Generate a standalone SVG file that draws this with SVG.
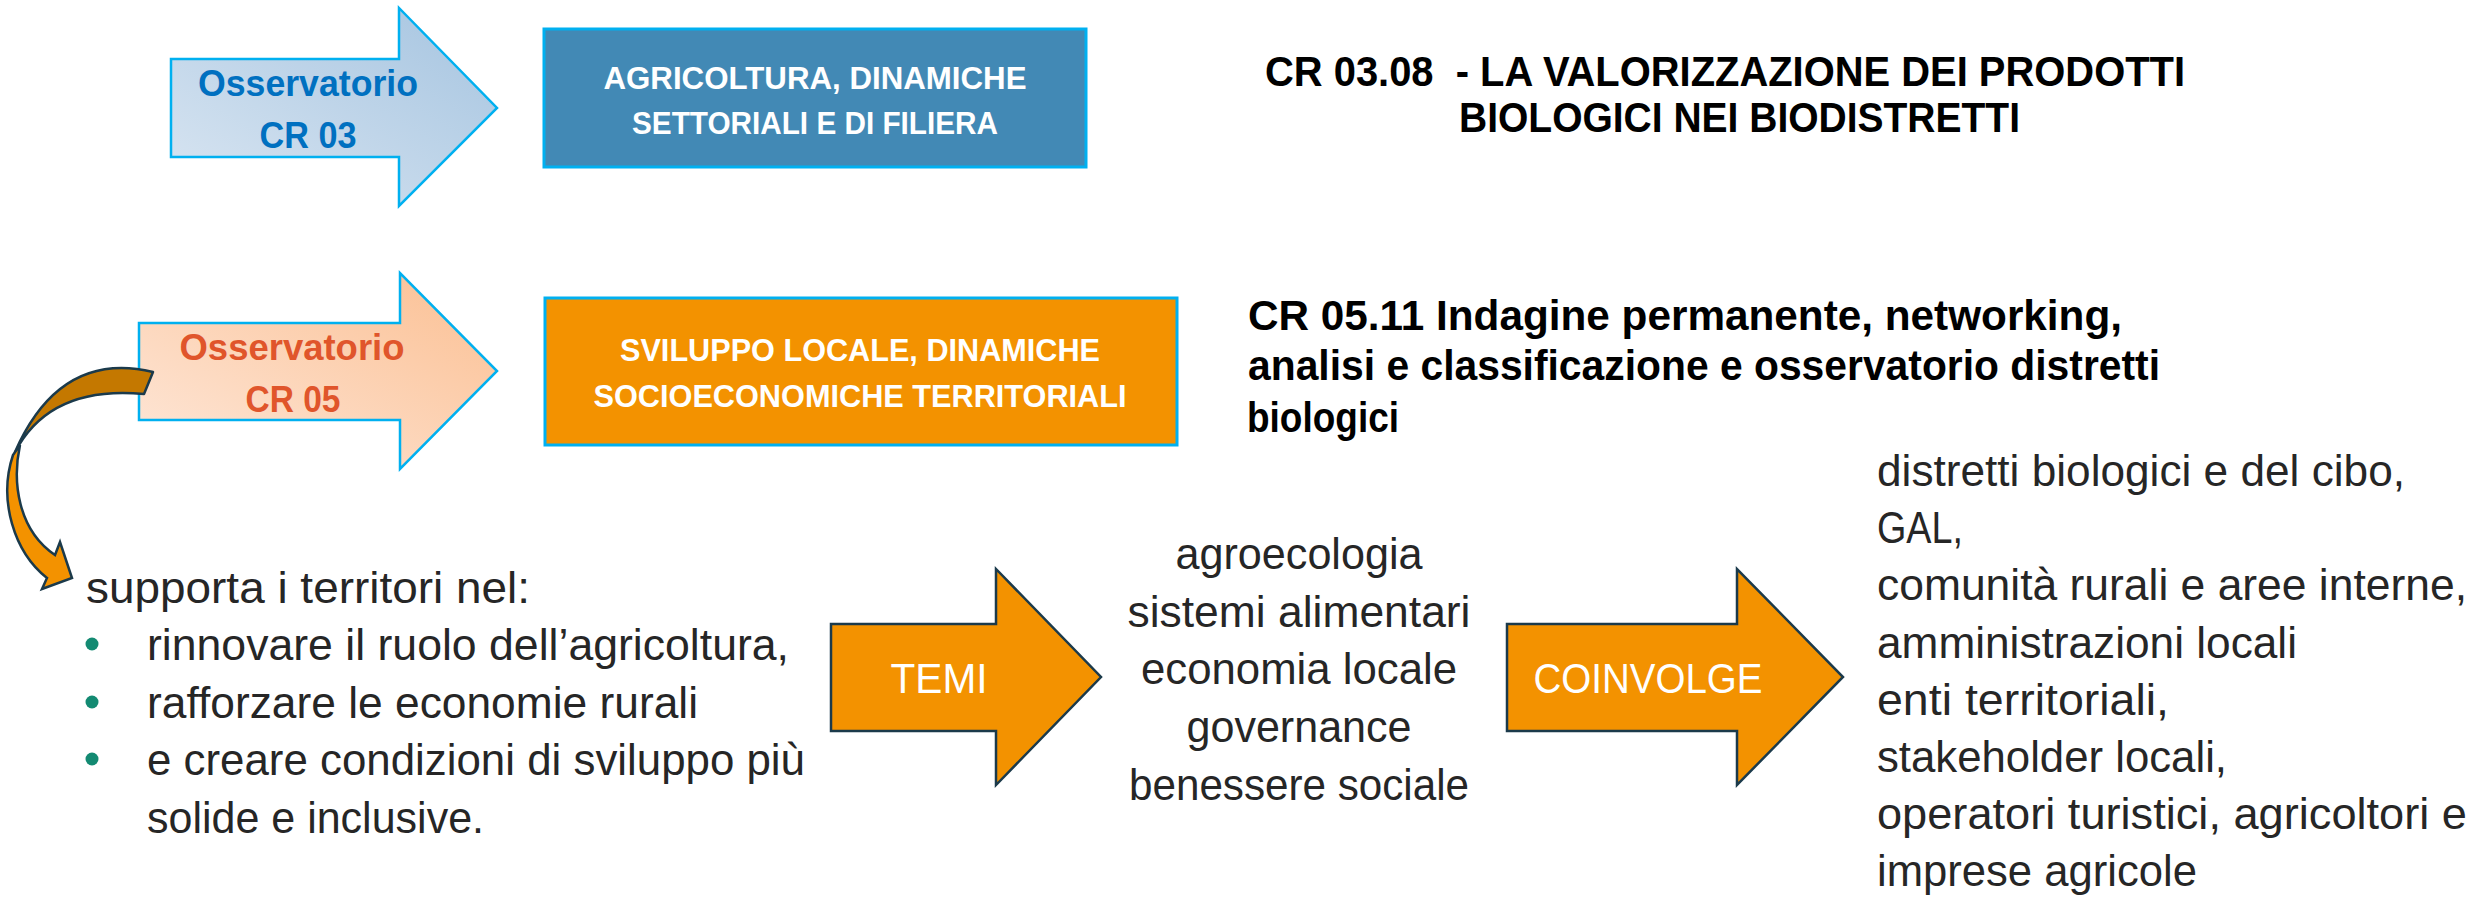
<svg xmlns="http://www.w3.org/2000/svg" width="2474" height="897" viewBox="0 0 2474 897">
<defs>
<style>
.t{font-family:"Liberation Sans",Arial,sans-serif;}
.reg{font-size:44px;fill:#262626;}
.ttl{font-size:42px;font-weight:bold;fill:#000;}
.box{font-size:32px;font-weight:bold;fill:#fff;text-anchor:middle;}
.obs{font-size:36px;font-weight:bold;text-anchor:middle;}
.arw{font-size:42px;fill:#fff;text-anchor:middle;}
.mid{text-anchor:middle;}
.bul{fill:#138A72;}
.oarrow{fill:#F39200;stroke:#1B3A4B;stroke-width:2.5;stroke-linejoin:miter;}
</style>
<linearGradient id="gBlue" x1="0" y1="1" x2="1" y2="0">
<stop offset="0" stop-color="#DAE6F2"/>
<stop offset="1" stop-color="#A5C4E0"/>
</linearGradient>
<linearGradient id="gPeach" x1="0" y1="1" x2="1" y2="0">
<stop offset="0" stop-color="#FEE8DA"/>
<stop offset="1" stop-color="#FBBF92"/>
</linearGradient>
</defs>
<rect width="2474" height="897" fill="#fff"/>

<g id="obs-cr03">
<path d="M171,59 H399 V8 L497,108 L399,206 V157 H171 Z" fill="url(#gBlue)" stroke="#00B0F0" stroke-width="2.5"/>
<text class="t obs" x="308" y="96" fill="#0070C0" textLength="220" lengthAdjust="spacingAndGlyphs">Osservatorio</text>
<text class="t obs" x="308" y="148" fill="#0070C0" textLength="97" lengthAdjust="spacingAndGlyphs">CR 03</text>
</g>

<g id="box-agricoltura">
<rect x="544" y="29" width="542" height="138" fill="#4289B5" stroke="#00B0F0" stroke-width="3"/>
<text class="t box" x="815" y="89" textLength="423" lengthAdjust="spacingAndGlyphs">AGRICOLTURA, DINAMICHE</text>
<text class="t box" x="815" y="134" textLength="366" lengthAdjust="spacingAndGlyphs">SETTORIALI E DI FILIERA</text>
</g>

<g id="title-cr0308">
<text class="t ttl" x="1265" y="86" textLength="920" lengthAdjust="spacingAndGlyphs" xml:space="preserve">CR 03.08  - LA VALORIZZAZIONE DEI PRODOTTI</text>
<text class="t ttl" x="1459" y="132" textLength="561" lengthAdjust="spacingAndGlyphs">BIOLOGICI NEI BIODISTRETTI</text>
</g>

<g id="obs-cr05">
<path d="M139,323 H400 V273 L497,371 L400,469 V420 H139 Z" fill="url(#gPeach)" stroke="#00B0F0" stroke-width="2.5"/>
<text class="t obs" x="292" y="360" fill="#E0552B" textLength="225" lengthAdjust="spacingAndGlyphs">Osservatorio</text>
<text class="t obs" x="293" y="412" fill="#E0552B" textLength="95" lengthAdjust="spacingAndGlyphs">CR 05</text>
</g>

<g id="box-sviluppo">
<rect x="545" y="298" width="632" height="147" fill="#F39200" stroke="#00B0F0" stroke-width="3"/>
<text class="t box" x="860" y="361" textLength="480" lengthAdjust="spacingAndGlyphs">SVILUPPO LOCALE, DINAMICHE</text>
<text class="t box" x="860" y="407" textLength="533" lengthAdjust="spacingAndGlyphs">SOCIOECONOMICHE TERRITORIALI</text>
</g>

<g id="title-cr0511">
<text class="t ttl" x="1248" y="330" textLength="874" lengthAdjust="spacingAndGlyphs">CR 05.11 Indagine permanente, networking,</text>
<text class="t ttl" x="1248" y="380" textLength="912" lengthAdjust="spacingAndGlyphs">analisi e classificazione e osservatorio distretti</text>
<text class="t ttl" x="1247" y="432" textLength="152" lengthAdjust="spacingAndGlyphs">biologici</text>
</g>

<g id="connectors">
<path d="M153,372 Q60,350 15,452 Q50,385 144,394 Z" fill="#C47800" stroke="#1B3A4B" stroke-width="2.5" stroke-linejoin="round"/>
<path d="M20,445 C12,482 18,530 55,555 L60,542 L72,578 L42,589 L47,578 C14,552 -2,500 13,455 Z" fill="#F39200" stroke="#1B3A4B" stroke-width="2.5" stroke-linejoin="miter"/>
</g>

<g id="supporta">
<text class="t reg" x="86" y="603" textLength="444" lengthAdjust="spacingAndGlyphs">supporta i territori nel:</text>
<circle class="bul" cx="92" cy="644" r="6.5"/>
<circle class="bul" cx="92" cy="702" r="6.5"/>
<circle class="bul" cx="92" cy="759" r="6.5"/>
<text class="t reg" x="147" y="660" textLength="642" lengthAdjust="spacingAndGlyphs">rinnovare il ruolo dell’agricoltura,</text>
<text class="t reg" x="147" y="718" textLength="551" lengthAdjust="spacingAndGlyphs">rafforzare le economie rurali</text>
<text class="t reg" x="147" y="775" textLength="658" lengthAdjust="spacingAndGlyphs">e creare condizioni di sviluppo più</text>
<text class="t reg" x="147" y="833" textLength="337" lengthAdjust="spacingAndGlyphs">solide e inclusive.</text>
</g>

<g id="temi">
<path class="oarrow" d="M831,624 H996 V569 L1101,677 L996,785 V731 H831 Z"/>
<text class="t arw" x="939" y="693" textLength="97" lengthAdjust="spacingAndGlyphs">TEMI</text>
</g>

<g id="temi-list">
<text class="t reg mid" x="1299" y="569" textLength="247" lengthAdjust="spacingAndGlyphs">agroecologia</text>
<text class="t reg mid" x="1299" y="627" textLength="343" lengthAdjust="spacingAndGlyphs">sistemi alimentari</text>
<text class="t reg mid" x="1299" y="684" textLength="316" lengthAdjust="spacingAndGlyphs">economia locale</text>
<text class="t reg mid" x="1299" y="742" textLength="225" lengthAdjust="spacingAndGlyphs">governance</text>
<text class="t reg mid" x="1299" y="800" textLength="340" lengthAdjust="spacingAndGlyphs">benessere sociale</text>
</g>

<g id="coinvolge">
<path class="oarrow" d="M1507,624 H1737 V569 L1843,677 L1737,785 V731 H1507 Z"/>
<text class="t arw" x="1648" y="693" textLength="229" lengthAdjust="spacingAndGlyphs">COINVOLGE</text>
</g>

<g id="coinvolge-list">
<text class="t reg" x="1877" y="486" textLength="528" lengthAdjust="spacingAndGlyphs">distretti biologici e del cibo,</text>
<text class="t reg" x="1877" y="543" textLength="86" lengthAdjust="spacingAndGlyphs">GAL,</text>
<text class="t reg" x="1877" y="600" textLength="590" lengthAdjust="spacingAndGlyphs">comunità rurali e aree interne,</text>
<text class="t reg" x="1877" y="658" textLength="420" lengthAdjust="spacingAndGlyphs">amministrazioni locali</text>
<text class="t reg" x="1877" y="715" textLength="292" lengthAdjust="spacingAndGlyphs">enti territoriali,</text>
<text class="t reg" x="1877" y="772" textLength="350" lengthAdjust="spacingAndGlyphs">stakeholder locali,</text>
<text class="t reg" x="1877" y="829" textLength="590" lengthAdjust="spacingAndGlyphs">operatori turistici, agricoltori e</text>
<text class="t reg" x="1877" y="886" textLength="320" lengthAdjust="spacingAndGlyphs">imprese agricole</text>
</g>
</svg>
